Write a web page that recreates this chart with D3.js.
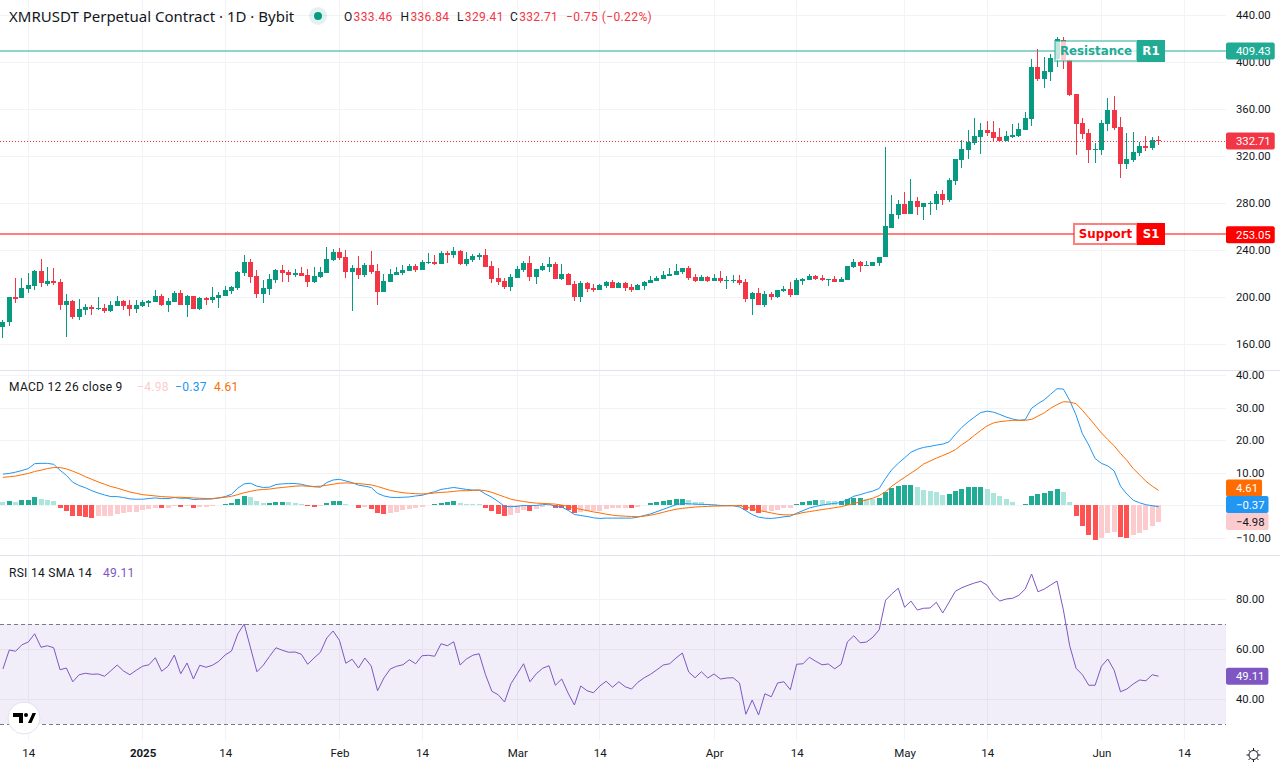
<!DOCTYPE html>
<html>
<head>
<meta charset="utf-8">
<script src="https://cdn.jsdelivr.net/npm/d3@7"></script>
<style>
  html, body { margin: 0; padding: 0; background: #fff; }
  text { font-family: "Roboto", "Liberation Sans", sans-serif; fill: #131722; }
</style>
</head>
<body>
<div id="chart"></div>
<script>
var w = 1280, h = 768, plotW = 1226;

// candles, one per day starting 10 Dec 2024
var firstDay = Date.UTC(2024, 11, 10);
var opens = [
  174.8,178.4,200.3,198.9,207.1,209.6,222.4,211.3,213.9,213,
  193.5,196.9,183.3,189.2,191.8,190.1,190.9,188.4,192.6,196.9,
  193.5,190.1,192.6,195.2,196,201.1,193.5,196,203.7,193.5,
  201.1,190.1,199.4,197.7,199.4,201.1,205.4,207.9,220.7,230.1,
  218.2,202.8,207.1,214.8,223.3,221.6,219,220.7,219,213,
  217.3,220.7,231.8,238.6,234.3,221.6,225,219,227.5,222.4,
  204.5,213,219,220.7,222.4,226.7,223.3,229.2,230.1,228.4,
  237.7,236,239.4,228.4,231.8,234.3,236,226.7,216.5,213.9,
  208.8,216.5,223.3,229.2,217.3,223.3,225.8,228.4,215.6,219.9,
  211.3,200.3,212.2,207.9,206.2,209.6,213,207.9,212.2,208.8,
  206.2,209.6,212.2,213.9,215.6,218.2,219,221.6,225,217.3,
  213.9,217.3,213.9,216.5,213.9,213.9,214.8,213,198.6,203.7,
  193.5,202.8,200.3,205.4,207.1,202,213.9,214.8,218.2,216.5,
  214.8,215.6,213,214.8,225.8,230.1,226.7,226.7,229.2,234,
  259,270.1,279.4,270.9,282,276.9,279.4,279.4,287.9,282.8,
  299,316.9,325.4,331.3,336.5,342.4,340.7,336.5,333,336.5,
  337.3,342.4,351.8,396,385.8,391.8,402.8,419,402,373,
  348.4,339.9,325.4,325.4,347.5,359.4,345,313.5,316.9,322.8,
  328.8,327.1,333.46];
var highs = [
  180.7,200.3,216.5,216.5,220.7,223.3,232.6,225.8,225,215.6,
  202.8,197.7,198.6,194.3,193.5,200.3,194.3,196.9,201.1,197.7,
  197.7,197.7,197.7,197.7,206.2,202.8,199.4,205.4,206.2,202,
  201.1,200.3,200.3,208.8,204.5,209.6,209.6,222.4,236,232.6,
  223.3,214.8,219.9,224.1,227.5,223.3,224.1,225.8,224.1,225.8,
  225.8,242.8,241.1,242,240.3,227.5,235.2,229.2,239.4,228.4,
  219.9,224.1,225.8,227.5,228.4,228.4,231.8,237.7,236,239.4,
  239.4,242.8,240.3,238.6,236.9,237.7,241.1,230.9,225,216.5,
  219.9,226.7,230.9,235.2,224.1,229.2,234.3,230.1,228.4,220.7,
  213.9,213.9,213,211.3,211.3,213.9,214.8,213,213,211.3,
  211.3,213.9,218.2,218.2,222.4,225,228.4,225,226.7,219.9,
  219,218.2,219.9,222.4,218.2,219,219,215.6,204.5,207.9,
  205.4,204.5,206.2,209.6,213,216.5,216.5,219.9,219,219,
  215.6,218.2,217.3,226.7,232.6,230.9,230.9,230.1,234.3,327.7,
  287.1,282.8,289.6,300.7,285.4,280.3,282,290.5,291.3,301.6,
  317.7,333.9,342.4,352.6,348.4,350.1,350.1,344.1,341.6,347.5,
  348.4,357.7,402.8,411.3,404.5,407.1,421.6,421.6,402.8,373,
  352.6,343.3,331.3,350.9,369.6,371.3,353.5,339.9,340.7,332.2,
  337.3,336.5,336.84];
var lows = [
  164.8,175,194.6,198.9,203.1,206.2,208.2,209.1,209.9,189.2,
  166.2,181,180.7,185,185,189.2,186.7,187.5,192.6,189.2,
  184.1,186.7,191.8,191.8,196,192.6,187.5,196,193.5,183.3,
  189.5,189.2,193.5,195.2,190.9,201.1,202.8,206.2,218.2,212.2,
  199.4,195.2,202,212.2,213,213,217.3,218.2,208.8,212.2,
  216.5,220.7,230.9,231.8,216.5,188.4,215.6,217.3,219.9,193.5,
  204.5,213,219,219,222.4,221.6,223.3,228.4,227.5,228.4,
  229.2,233.5,227.5,226.7,230.1,231.8,225.8,212.2,210.5,207.1,
  205.4,216.5,221.6,213.9,211.3,222.4,221.6,215.6,214.8,210.5,
  196.9,196,204.5,204.5,206.2,207.9,207.9,207.9,205.4,204.5,
  206.2,206.2,212.2,213.9,215.6,218.2,219,219.9,214.8,213,
  213.9,213,213.9,212.2,207.1,212.2,210.5,196,185,193.5,
  191.8,197.7,199.4,204.5,200.3,202,210.5,214.8,214.8,213.9,
  209.6,213,213,214.8,225,221.6,226.7,226.7,226.7,234,
  259,266.7,270.9,270.9,270.1,265.8,270.1,274.3,278.6,281.1,
  295.6,310.1,317.7,329.6,322,337.3,332.2,333,333,335.6,
  336.5,342.4,345.8,384.1,378.2,384.1,396,394.3,371.3,321.1,
  334.8,314.3,314.3,321.1,341.6,342.4,301.6,309.2,315.2,320.3,
  324.5,325.4,329.41];
var closes = [
  179,200.3,198.6,207.9,210.2,222.4,211.6,213.9,212.2,193.5,
  196.9,183.3,190.1,191.8,190.1,190.9,188.4,193.5,196.9,192.6,
  190.1,193.5,196,196.6,201.1,193.5,196.9,203.7,193.5,201.1,
  190.1,199.4,197.7,200.3,202,206.2,208.8,221.6,230.1,217.3,
  202.8,207.9,215.6,223.3,220.7,219,220.7,218.2,213,218.2,
  221.6,232.6,238.6,233.5,221.6,225,219,227.5,221.6,204.5,
  213.9,219.9,221.6,223.3,226.7,223.3,230.1,230.1,228.4,237.7,
  236,239.4,228.4,232.6,235.2,236,225.8,215.6,213,208.8,
  217.3,224.1,229.2,217.3,224.1,226.7,228.4,215.6,219.9,210.5,
  200.3,212.2,207.1,206.2,210.5,213,207.9,212.2,207.9,206.2,
  210.5,213,214.8,216.5,219,219.9,222.4,225,216.5,213.9,
  217.3,213.9,216.5,213.9,214.8,214.8,212.2,198.6,203.7,193.5,
  202.8,200.3,206.2,207.1,202,214.8,215.6,218.2,215.6,214.8,
  215.6,213,215.6,226.7,230.1,226.7,227.5,230.1,234.3,260.1,
  270.9,279.4,270.9,282,276.9,280.3,280.3,287.9,282.8,299.9,
  317.7,326.2,332.2,337.3,342.4,339.9,335.6,333,337.3,338.2,
  343.3,352.6,396,385.8,392.6,403.7,419.9,402,372.2,347.5,
  339,325.4,326.2,348.4,359.4,344.1,313.5,317.7,323.7,328.8,
  327.1,333.9,332.71];

var macdLine = [
  9.6,9.8,10.2,10.7,11.3,12.8,12.9,12.9,12.6,10.8,
  9.2,7.1,6.1,5.4,4.5,3.8,3.2,2.7,2.7,2.4,
  2,1.9,1.9,2.1,2.3,2.1,2.1,2.4,2.2,2.2,
  1.8,1.9,1.9,2,2.3,2.7,3.4,5.3,6.6,6.8,
  5.9,5.5,5.6,6.4,6.6,6.7,6.7,6.5,6,5.7,
  5.6,7,7.8,8,7.5,7,6.2,5.9,5.5,3.7,
  2.9,2.5,2.4,2.5,2.6,2.9,3.1,3.7,4.2,4.9,
  5.2,5.5,5.2,4.9,4.7,4.7,3.5,2.5,1.2,-0.3,
  -0.4,-0.3,0,-0.1,0,0.2,0.4,-0.3,-0.5,-1.5,
  -2.8,-3.1,-3.4,-3.8,-4,
  -3.9,-3.9,-3.9,-3.9,-3.9,-3.6,-3.1,-2.6,-1.9,-1.2,
  -0.5,0.2,0.6,0.5,0.4,0.3,0.3,0.1,0,-0.1,
  -0.1,-0.5,-1.6,-2.8,-3.6,-3.9,-4,-3.8,-3.5,-3.3,
  -2.4,-1.6,-0.8,-0.3,0.1,0.4,0.6,0.9,1.8,2.8,
  3.3,3.9,4.4,5.2,8.3,11,12.9,14.6,16.3,17.2,
  17.8,18.1,18.5,18.8,19.5,21.8,23.9,25.6,27.1,28.5,
  28.9,28.6,27.9,27.1,26.5,26.1,26.3,29.8,31.2,32.4,
  34.1,35.8,35.7,32.2,27.7,22,18.5,14.4,12.9,12.1,
  10.6,5.9,3.5,1.6,0.8,0.2,-0.1,-0.37];
var signalLine = [
  8.6,8.8,9,9.4,9.8,10.4,10.8,11.3,11.6,11.6,
  11.2,10.5,9.7,8.8,8,7.2,6.5,5.8,5.3,4.7,
  4.1,3.7,3.3,3.1,2.9,2.7,2.6,2.5,2.5,2.4,
  2.3,2.2,2.1,2.1,2.3,2.5,2.8,3.3,3.9,4.3,
  4.7,4.9,5,5.3,5.5,5.7,5.9,6,5.9,5.8,
  5.9,6.2,6.5,6.8,6.9,6.8,6.7,6.5,6.3,5.8,
  5.2,4.6,4.2,3.9,3.7,3.6,3.5,3.6,3.8,4,
  4.1,4.3,4.5,4.5,4.6,4.7,4.5,4,3.3,2.6,
  1.9,1.5,1.2,0.9,0.7,0.6,0.5,0.4,0.1,-0.3,
  -0.8,-1.2,-1.6,-2,-2.3,
  -2.7,-3,-3.2,-3.3,-3.4,-3.5,-3.3,-3,-2.6,-2.1,
  -1.6,-1.2,-0.9,-0.7,-0.5,-0.4,-0.3,-0.2,-0.2,-0.1,
  -0.1,-0.1,-0.5,-0.9,-1.5,-1.9,-2.3,-2.7,-2.9,-2.9,
  -2.7,-2.2,-1.9,-1.6,-1.3,-1,-0.7,-0.4,0.1,0.6,
  1.1,1.7,2.2,3,4.2,5.9,7.3,8.6,9.9,11.2,
  12.7,13.6,14.5,15.3,16.1,17.1,18.6,19.9,21.5,23,
  24.4,25.3,25.7,25.9,26.1,26.1,26.1,26.4,27.4,28.4,
  29.8,30.9,31.8,31.7,31.2,29.2,26.9,24.6,22.2,20.2,
  18.3,15.9,13.8,11.3,9.4,7.4,5.9,4.61];
var macdHist = [
  1.1,1.4,1.1,1.7,1.75,2.6,2,1.7,1.4,-0.7,
  -1.6,-3.1,-3.4,-3.5,-3.8,-3.4,-3.3,-3.1,-2.5,-2.2,
  -2.1,-1.9,-1.3,-1,-0.7,-0.8,-0.7,-0.2,-0.4,-0.2,
  -0.7,-0.4,-0.35,-0.3,0.2,0.5,0.8,2,2.9,2.6,
  1.4,0.8,0.85,1.1,1.15,1.1,0.8,0.5,-0.2,-0.4,
  -0.3,0.8,1.4,1.45,0.5,0.2,-0.7,-0.6,-1,-2.2,
  -2.5,-2.2,-1.9,-1.3,-1,-0.7,-0.4,0.2,0.5,0.8,
  1.1,1.4,0.8,0.5,0.45,0.4,-0.7,-1.6,-2.5,-3.1,
  -2.8,-2.2,-1.3,-1.6,-1,-0.4,-0.3,-0.7,-0.8,-1.3,
  -2.2,-1.9,-1.8,-1.7,-1.6,
  -1.1,-0.9,-0.8,-0.75,-0.85,-0.5,0.2,0.7,1.1,1.4,
  1.6,1.9,1.95,1.6,1,0.9,0.5,0.3,0.1,0.05,
  0.02,-0.2,-1.4,-1.6,-2.3,-1.9,-1.85,-1.4,-0.8,-0.75,
  0.4,1,1.3,1.6,1.55,1.5,1.3,1.4,2,2.2,
  2.25,2.1,2,2.2,4,5.2,6,6.2,6.25,5.6,
  4.8,4.3,4,3.3,3.5,4.4,5,5.6,5.65,5.7,
  5.1,3.9,2.8,1.9,1,0.2,0.4,2.9,3.5,3.9,
  4.5,5,4.1,1,-3.3,-6.3,-9.1,-10.6,-10,-8.4,
  -8.2,-9.6,-9.9,-9.1,-8.4,-7.6,-6.3,-4.98];
var rsiLine = [
  52,59.6,59.1,61.7,62.8,66.1,60.7,61.3,60.5,51.7,
  52.4,46.9,49.7,50.3,49.9,50,49.1,51.3,53.6,51.2,
  49.7,51.5,53.1,53.7,56.5,51.1,53.1,57.6,50.1,54.4,
  48,53.5,52.7,53.5,55.1,57.6,59.2,66.1,70,60.4,
  50.9,53.5,57.1,60.5,59.5,58.7,58.8,57.9,53.9,56.4,
  58.7,64.4,67.2,63.5,54.3,55.9,52.4,56.4,53.2,43.3,
  48.4,52,53.1,53.7,55.7,54.1,57.3,57.5,57.1,62.1,
  61.3,62.9,53.6,56,57.5,58.1,49.7,43.1,41.7,38.8,
  46.1,50.1,54.1,46.9,50.1,52.3,53.3,45.5,48,42.4,
  37.6,45.2,43.3,42.5,45.2,
  47.1,44.7,46.9,44.9,44,46.7,48.5,49.9,51.7,53.6,
  54.1,56.4,58.4,50.8,48.5,50.9,48.4,50,48,48.4,
  48.5,46.4,33.9,39.6,33.6,42.1,40.9,46.4,46.9,43.7,
  53.9,54.1,56.7,55.1,53.7,54,52.1,53.9,62.9,65.3,
  62.5,62.8,64.7,67.7,79.5,82.1,84.3,76.7,79.2,75.6,
  76.3,76.4,78.7,74.4,78.7,83.1,84.5,85.5,86.4,87.1,
  85.5,81.5,79.2,80,80.3,81.5,84,90,82.9,84,
  85.6,87.2,75.7,61.3,52.3,49.7,45.5,45.5,53.1,56,
  51.5,42.9,44,46,47.6,47.3,49.7,49.11];

var priceTicks = [440, 400, 360, 320, 280, 240, 200, 160];
var macdTicks = [40, 30, 20, 10, -10];
var macdGrid = [40, 30, 20, 10, 0, -10];
var rsiTicks = [80, 60, 40];
var timeTicks = [
  Date.UTC(2024, 11, 14), Date.UTC(2025, 0, 1), Date.UTC(2025, 0, 14), Date.UTC(2025, 1, 1),
  Date.UTC(2025, 1, 14), Date.UTC(2025, 2, 1), Date.UTC(2025, 2, 14), Date.UTC(2025, 3, 1),
  Date.UTC(2025, 3, 14), Date.UTC(2025, 4, 1), Date.UTC(2025, 4, 14), Date.UTC(2025, 5, 1),
  Date.UTC(2025, 5, 14)];
var timeLabels = ["14", "2025", "14", "Feb", "14", "Mar", "14", "Apr", "14", "May", "14", "Jun", "14"];

var resistance = 409.43, support = 253.05, lastClose = 332.71, rsiUpper = 70, rsiLower = 30;

var up = "#089981", down = "#f23645", teal = "#22ab94", gridCol = "#f2f3f6";

var dayMs = 86400000;
var candles = opens.map(function(o, i) {
  return { t: firstDay + i * dayMs, o: o, h: highs[i], l: lows[i], c: closes[i],
           macd: macdLine[i], sig: signalLine[i], hist: macdHist[i], rsi: rsiLine[i] };
});

var x = d3.scaleUtc().domain([Date.UTC(2024, 11, 14), Date.UTC(2025, 5, 14)]).range([28.3, 1184]);
var yPrice = d3.scaleLinear().domain([160, 440]).range([344, 15]);
var yMacd = d3.scaleLinear().domain([-10, 40]).range([538, 375]);
var yRsi = d3.scaleLinear().domain([30, 80]).range([724, 599]);

// pixel column of a day, bars and grid share it
function col(t) { return Math.floor(x(t)); }

var svg = d3.select("#chart").append("svg")
  .attr("width", w)
  .attr("height", h)
  .style("display", "block");

// grid
var grid = svg.append("g").attr("shape-rendering", "crispEdges");
grid.selectAll(".v").data(timeTicks).enter().append("line")
  .attr("x1", function(d) { return col(d) + 0.5; })
  .attr("x2", function(d) { return col(d) + 0.5; })
  .attr("y1", 0).attr("y2", 740)
  .attr("stroke", gridCol);
function hGrid(ticks, scale) {
  grid.selectAll(null).data(ticks).enter().append("line")
    .attr("x1", 0).attr("x2", plotW)
    .attr("y1", function(d) { return Math.round(scale(d)) + 0.5; })
    .attr("y2", function(d) { return Math.round(scale(d)) + 0.5; })
    .attr("stroke", gridCol);
}
hGrid(priceTicks, yPrice);
hGrid(macdGrid, yMacd);
hGrid(rsiTicks, yRsi);

// panel separators
svg.selectAll(".sep").data([370, 555]).enter().append("line")
  .attr("x1", 0).attr("x2", w)
  .attr("y1", function(d) { return d + 0.5; }).attr("y2", function(d) { return d + 0.5; })
  .attr("stroke", "#e0e3eb");

// support / resistance lines, snapped so the 2px stroke stays sharp
function levelY(level) { return Math.round(yPrice(level) - 0.3); }
svg.append("line").attr("x1", 0).attr("x2", plotW)
  .attr("y1", levelY(resistance)).attr("y2", levelY(resistance))
  .attr("stroke", teal).attr("stroke-opacity", 0.5).attr("stroke-width", 2);
svg.append("line").attr("x1", 0).attr("x2", plotW)
  .attr("y1", levelY(support)).attr("y2", levelY(support))
  .attr("stroke", "#ff0000").attr("stroke-opacity", 0.5).attr("stroke-width", 2);

// candles
var candle = svg.append("g").attr("shape-rendering", "crispEdges")
  .selectAll("g").data(candles).enter().append("g")
  .attr("fill", function(d) { return d.c >= d.o ? up : down; });
candle.append("rect")
  .attr("x", function(d) { return col(d.t); })
  .attr("width", 1)
  .attr("y", function(d) { return yPrice(d.h); })
  .attr("height", function(d) { return yPrice(d.l) - yPrice(d.h); });
candle.append("rect")
  .attr("x", function(d) { return col(d.t) - 2; })
  .attr("width", 5)
  .attr("y", function(d) { return yPrice(Math.max(d.o, d.c)); })
  .attr("height", function(d) { return Math.max(1, Math.abs(yPrice(d.o) - yPrice(d.c))); });

// last price dotted line
svg.append("line").attr("x1", 0).attr("x2", plotW)
  .attr("y1", Math.round(yPrice(lastClose)) + 0.5).attr("y2", Math.round(yPrice(lastClose)) + 0.5)
  .attr("stroke", down).attr("stroke-dasharray", "1 2");

// MACD
svg.append("g").attr("shape-rendering", "crispEdges")
  .selectAll("rect").data(candles).enter().append("rect")
  .attr("x", function(d) { return col(d.t) - 2; })
  .attr("width", 5)
  .attr("y", function(d) { return yMacd(Math.max(0, d.hist)); })
  .attr("height", function(d) { return Math.abs(yMacd(d.hist) - yMacd(0)); })
  .attr("fill", function(d, i) {
    var prev = i > 0 ? candles[i - 1].hist : d.hist;
    if (d.hist >= 0) return d.hist > prev ? teal : "#ace5dc";
    return d.hist < prev ? "#ff5252" : "#fccbcd";
  });

var macdPath = d3.line().x(function(d) { return x(d.t); }).y(function(d) { return yMacd(d.macd); });
var sigPath = d3.line().x(function(d) { return x(d.t); }).y(function(d) { return yMacd(d.sig); });
svg.append("path").attr("d", macdPath(candles)).attr("fill", "none").attr("stroke", "#2196f3");
svg.append("path").attr("d", sigPath(candles)).attr("fill", "none").attr("stroke", "#ff6d00");

// RSI
svg.append("rect").attr("x", 0).attr("width", plotW)
  .attr("y", yRsi(rsiUpper)).attr("height", yRsi(rsiLower) - yRsi(rsiUpper))
  .attr("fill", "#7e57c2").attr("fill-opacity", 0.1);
svg.selectAll(".band").data([rsiUpper, rsiLower]).enter().append("line")
  .attr("x1", 0).attr("x2", plotW)
  .attr("y1", function(d) { return Math.round(yRsi(d)) + 0.5; })
  .attr("y2", function(d) { return Math.round(yRsi(d)) + 0.5; })
  .attr("stroke", "#787b86").attr("stroke-dasharray", "4 3");
var rsiPath = d3.line().x(function(d) { return x(d.t); }).y(function(d) { return yRsi(d.rsi); });
svg.append("path").attr("d", rsiPath(candles)).attr("fill", "none").attr("stroke", "#7e57c2");

// right axes, labels start at a fixed x like the original
function rightAxis(scale, ticks) {
  var g = svg.append("g").attr("transform", "translate(" + plotW + ",0)")
    .call(d3.axisRight(scale).tickValues(ticks).tickSize(0).tickFormat(function(d) {
      return d3.format(".2f")(d).replace("-", "\u2212");
    }));
  g.select(".domain").remove();
  g.selectAll("text").attr("x", 10).style("font-size", "11.3px").style("fill", "#131722")
    .style("font-family", "Roboto");
}
rightAxis(yPrice, priceTicks);
rightAxis(yMacd, macdTicks);
rightAxis(yRsi, rsiTicks);

// bottom axis
var timeAxis = svg.append("g").attr("transform", "translate(0,746)")
  .call(d3.axisBottom(x).tickValues(timeTicks).tickSize(0).tickFormat(function(d, i) { return timeLabels[i]; }));
timeAxis.select(".domain").remove();
timeAxis.selectAll("text").attr("y", 3).style("font-size", "11.5px").style("fill", "#131722")
  .style("font-family", "Roboto")
  .style("font-weight", function(d, i) { return timeLabels[i] == "2025" ? "bold" : "normal"; });

// price tags on the axis
function tag(yCenter, label, bg, fg) {
  var g = svg.append("g");
  var r = g.append("rect").attr("x", plotW).attr("y", yCenter - 8.5).attr("height", 17).attr("rx", 2).attr("fill", bg);
  var t = g.append("text").attr("x", 1236).attr("y", yCenter + 4).text(label)
    .style("font-size", "11.3px").style("fill", fg);
  r.attr("width", t.node().getComputedTextLength() + 14);
}
tag(yPrice(resistance), "409.43", teal, "#fff");
tag(yPrice(lastClose), "332.71", down, "#fff");
tag(yPrice(support), "253.05", "#ff0000", "#fff");
tag(488, "4.61", "#ff6d00", "#fff");
tag(504.5, "\u22120.37", "#2196f3", "#fff");
tag(521.5, "\u22124.98", "#fccbcd", "#131722");
tag(yRsi(49.11), "49.11", "#7e57c2", "#fff");

// resistance / support boxes
function levelBox(left, name, badge, color, level) {
  var cy = levelY(level), top = cy - 10;
  var g = svg.append("g");
  g.append("rect").attr("x", left).attr("y", top).attr("width", 1137 - left).attr("height", 20)
    .attr("fill", "#fff").attr("fill-opacity", color == teal ? 0.75 : 1)
    .attr("stroke", color).attr("stroke-opacity", 0.5).attr("stroke-width", 2);
  g.append("rect").attr("x", 1137).attr("y", top - 1).attr("width", 28).attr("height", 22)
    .attr("fill", color);
  g.append("text").attr("x", (left + 1137) / 2).attr("y", cy + 3.5).attr("text-anchor", "middle").text(name)
    .style("font-family", "DejaVu Sans").style("font-weight", "bold").style("font-size", "11.8px").style("fill", color);
  g.append("text").attr("x", 1151).attr("y", cy + 3.5).attr("text-anchor", "middle").text(badge)
    .style("font-family", "DejaVu Sans").style("font-weight", "bold").style("font-size", "11.8px").style("fill", "#fff");
}
levelBox(1055, "Resistance", "R1", teal, resistance);
levelBox(1074, "Support", "S1", "#ff0000", support);

// header legend
svg.append("text").attr("x", 9).attr("y", 22).text("XMRUSDT Perpetual Contract \u00b7 1D \u00b7 Bybit")
  .style("font-family", "Noto Sans").style("font-size", "15px");
svg.append("circle").attr("cx", 318).attr("cy", 16).attr("r", 9).attr("fill", "#089981").attr("fill-opacity", 0.12);
svg.append("circle").attr("cx", 318).attr("cy", 16).attr("r", 4).attr("fill", "#089981");

var ohlc = [["O", "333.46", 344], ["H", "336.84", 400.5], ["L", "329.41", 457], ["C", "332.71", 510]];
ohlc.forEach(function(d) {
  var t = svg.append("text").attr("x", d[2]).attr("y", 21).style("font-size", "12px").style("letter-spacing", "0.35px");
  t.append("tspan").text(d[0]);
  t.append("tspan").style("fill", down).attr("dx", 1).text(d[1]);
});
svg.append("text").attr("x", 566).attr("y", 21).text("\u22120.75 (\u22120.22%)")
  .style("font-size", "12px").style("letter-spacing", "0.4px").style("fill", down);

function legendText(px, py, str, color) {
  svg.append("text").attr("x", px).attr("y", py).text(str)
    .style("font-size", "12px").style("letter-spacing", "0.3px").style("fill", color);
}
legendText(9, 391, "MACD 12 26 close 9", "#131722");
legendText(137, 391, "\u22124.98", "#fccbcd");
legendText(175, 391, "\u22120.37", "#2196f3");
legendText(214, 391, "4.61", "#ff6d00");
legendText(9, 577, "RSI 14 SMA 14", "#131722");
legendText(103, 577, "49.11", "#7e57c2");

// logo
var logo = svg.append("g").attr("transform", "translate(24,718)");
logo.append("circle").attr("r", 16).attr("fill", "#fff").attr("stroke", "#e0e3eb");
logo.append("path").attr("d", "M-11,-5 H-1 V5 H-5 V-1 H-11 Z M4,5 L8.5,-5 H12 L7.5,5 Z").attr("fill", "#000");
logo.append("circle").attr("cx", 2).attr("cy", -3).attr("r", 2).attr("fill", "#000");

// settings icon
var gear = svg.append("g").attr("transform", "translate(1253.5,755)").attr("stroke", "#131722").attr("fill", "none");
gear.append("circle").attr("r", 4.5);
d3.range(8).forEach(function(i) {
  var a = i * Math.PI / 4;
  gear.append("line").attr("x1", 4.5 * Math.cos(a)).attr("y1", 4.5 * Math.sin(a))
    .attr("x2", 7 * Math.cos(a)).attr("y2", 7 * Math.sin(a));
});
</script>
</body>
</html>
